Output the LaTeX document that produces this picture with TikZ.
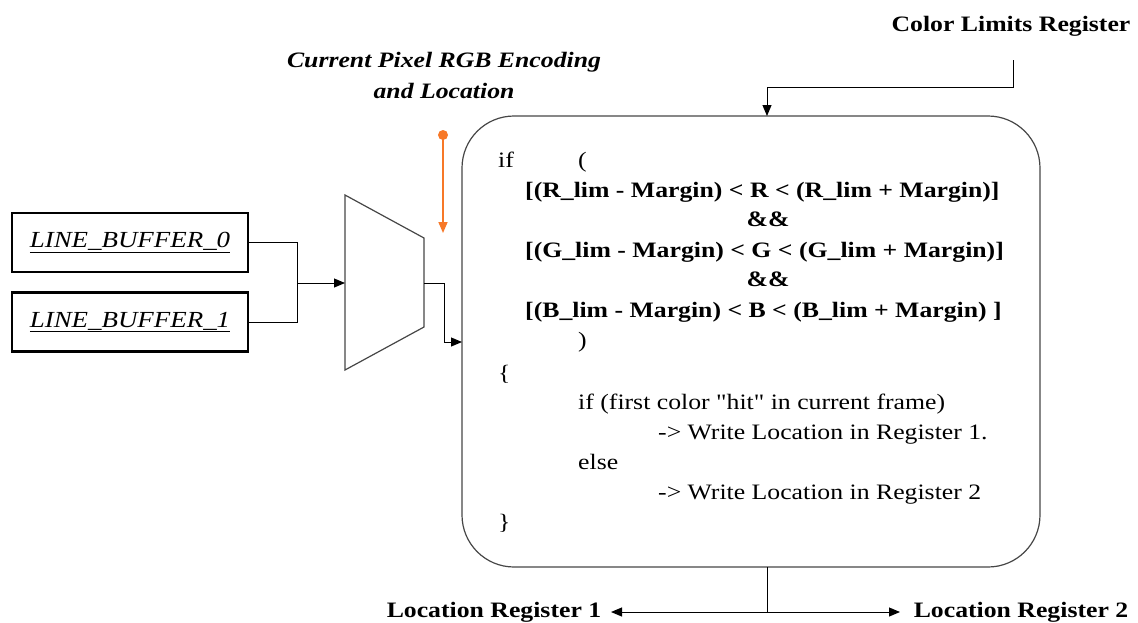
\documentclass[tikz,border=0pt]{standalone}
\usepackage{fontspec}
\setmainfont[FakeStretch=1.17]{Liberation Serif}
\newfontfamily\plainserif[FakeStretch=1.17]{Liberation Serif}
\usetikzlibrary{arrows.meta}
\definecolor{orng}{RGB}{247,120,40}
\definecolor{dgray}{RGB}{70,70,70}
\tikzset{
  codeb/.style={anchor=base west, inner sep=0pt, font=\fontsize{22}{26}\selectfont\bfseries},
  coder/.style={anchor=base west, inner sep=0pt, font=\fontsize{22}{26}\selectfont},
  codec/.style={anchor=base, inner sep=0pt, font=\fontsize{22}{26}\selectfont\bfseries},
  lbl/.style={anchor=base, inner sep=0pt, font=\fontsize{22}{26}\selectfont\bfseries},
  bufbox/.style={draw=black, line width=2.6pt, minimum width=236pt, minimum height=59pt, inner sep=0pt,
    font=\fontsize{23}{26}\selectfont\itshape},
  conn/.style={line width=1pt, black},
  tip/.style={-{Triangle[length=11pt,width=9pt]}},
}
\begin{document}
\begin{tikzpicture}[x=1pt,y=-1pt]
\useasboundingbox (0,0) rectangle (1138,622);
% main rounded box
\node[draw=dgray, line width=1.2pt, rounded corners=52pt, minimum width=578pt, minimum height=451pt, inner sep=0pt] (cond) at (751,341.5) {};
% code text
\node[coder] (l1) at (498,167) {if};
\node[coder] (l1b) at (578,167) {(};
\node[codeb] (l2) at (525,197) {[(R\_lim - Margin) < R < (R\_lim + Margin)]};
\node[codec] (l3) at (768,226) {\&\&};
\node[codeb] (l4) at (525,257) {[(G\_lim - Margin) < G < (G\_lim + Margin)]};
\node[codec] (l5) at (768,286) {\&\&};
\node[codeb] (l6) at (525,317) {[(B\_lim - Margin) < B < (B\_lim + Margin) ]};
\node[coder] (l7) at (578,347) {)};
\node[coder] (l8) at (498,380) {\{};
\node[coder, font=\fontsize{22}{26}\plainserif] (l9) at (578,409) {if (first color "hit" in current frame)};
\node[coder] (l10) at (658,439) {-> Write Location in Register 1.};
\node[coder] (l11) at (578,469) {else};
\node[coder] (l12) at (658,499) {-> Write Location in Register 2};
\node[coder] (l13) at (498,529) {\}};
% line buffers
\node[bufbox] (buf0) at (130,242.5) {\underline{LINE\_BUFFER\_0}};
\node[bufbox] (buf1) at (130,322) {\underline{LINE\_BUFFER\_1}};
% mux
\coordinate (m1) at (345,195);
\coordinate (m2) at (424,238);
\coordinate (m3) at (424,327);
\coordinate (m4) at (345,370);
\draw[line width=1.2pt, dgray] (m1) -- (m2) -- (m3) -- (m4) -- cycle;
\coordinate (muxin) at (345,283);
\coordinate (muxout) at (424,283);
\coordinate (jn) at (297,283);
\draw[conn] (buf0.east) -| (jn);
\draw[conn] (buf1.east) -| (jn);
\draw[conn, tip] (jn) -- (muxin);
\coordinate (bend) at (444,342);
\coordinate (cin) at (462,342);
\draw[conn, tip] (muxout) -| (bend) -- (cin);
% orange input
\coordinate (odot) at (443,135);
\coordinate (otip) at (443,233);
\draw[orng, line width=1.6pt, tip] (odot) -- (otip);
\fill[orng] (odot) circle (5pt);
\node[lbl, font=\fontsize{22}{26}\selectfont\bfseries\itshape] (pix1) at (444,67) {Current Pixel RGB Encoding};
\node[lbl, font=\fontsize{22}{26}\selectfont\bfseries\itshape] (pix2) at (444,98) {and Location};
% color limits register
\node[lbl] (clr) at (1011,31) {Color Limits Register};
\coordinate (clrs) at (1013,60);
\coordinate (clrb) at (767,87);
\coordinate (ctop) at (767,116);
\draw[conn, tip] (clrs) |- (clrb) -- (ctop);
% outputs
\coordinate (cbot) at (767,567);
\coordinate (bj) at (767,612);
\coordinate (le) at (611,612);
\coordinate (re) at (900,612);
\draw[conn] (cbot) -- (bj);
\draw[conn, {Triangle[length=11pt,width=9pt]}-{Triangle[length=11pt,width=9pt]}] (le) -- (re);
\node[lbl] (lr1) at (494,617) {Location Register 1};
\node[lbl] (lr2) at (1021,617) {Location Register 2};
\end{tikzpicture}
\end{document}
